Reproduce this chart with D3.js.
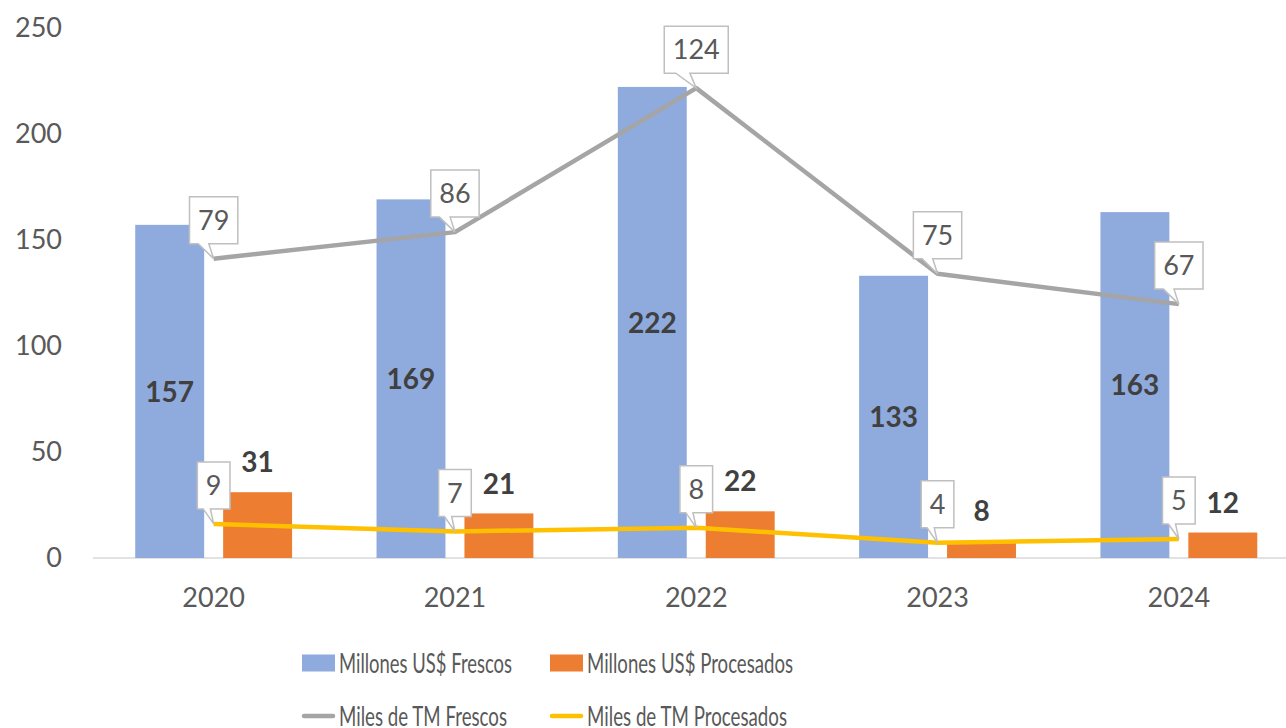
<html>
<head>
<meta charset="utf-8">
<script src="https://cdn.jsdelivr.net/npm/d3@7"></script>
<style>
  body { margin: 0; background: #fff; }
  svg text { font-family: Lato, "Noto Sans", sans-serif; }
</style>
</head>
<body>
<div id="chart"></div>
<script>
var years = ["2020", "2021", "2022", "2023", "2024"];
var usdFrescos = [157, 169, 222, 133, 163];
var usdProcesados = [31, 21, 22, 8, 12];
var tmFrescos = [79, 86, 124, 75, 67];
var tmProcesados = [9, 7, 8, 4, 5];
var yTicks = [0, 50, 100, 150, 200, 250];
var seriesNames = ["Millones US$ Frescos", "Millones US$ Procesados", "Miles de TM Frescos", "Miles de TM Procesados"];

var w = 1286, h = 728;
var svg = d3.select("#chart").append("svg")
    .attr("width", w)
    .attr("height", h);

// chart is cut off on the right like the original
var x0 = d3.scaleBand().domain(years).range([93, 1299.5]).padding(0);
var groupW = x0.bandwidth() * 0.65;
var x1 = d3.scaleBand().domain(["f", "p"]).range([-groupW / 2, groupW / 2]).paddingInner(0.216);
var y = d3.scaleLinear().domain([0, 250]).range([558, 27.5]);
var y2 = d3.scaleLinear().domain([0, 140]).range([558, 27.5]);

function cx(d, i) { return x0(years[i]) + x0.bandwidth() / 2; }

// y axis labels only
var yAxis = d3.axisLeft(y).tickValues(yTicks).tickSize(0).tickPadding(0);
var gy = svg.append("g").attr("transform", "translate(62,0)").call(yAxis);
gy.select(".domain").remove();
gy.selectAll("text").attr("font-size", 27).attr("fill", "#595959")
    .style("font-family", "Lato, sans-serif");

// baseline
svg.append("line")
    .attr("x1", 93).attr("x2", w)
    .attr("y1", y(0)).attr("y2", y(0))
    .attr("stroke", "#d9d9d9").attr("stroke-width", 1.5);

// x labels
var xAxis = d3.axisBottom(x0).tickSize(0).tickPadding(30);
var gx = svg.append("g").attr("transform", "translate(0," + y(0) + ")").call(xAxis);
gx.select(".domain").remove();
gx.selectAll("text").attr("font-size", 27).attr("fill", "#595959")
    .style("font-family", "Lato, sans-serif");

// bars
var bars = svg.append("g");
bars.selectAll(".bf").data(usdFrescos).enter().append("rect")
    .attr("x", function(d, i) { return cx(d, i) + x1("f"); })
    .attr("width", x1.bandwidth())
    .attr("y", function(d) { return y(d); })
    .attr("height", function(d) { return y(0) - y(d); })
    .attr("fill", "#8faadc");
bars.selectAll(".bp").data(usdProcesados).enter().append("rect")
    .attr("x", function(d, i) { return cx(d, i) + x1("p"); })
    .attr("width", x1.bandwidth())
    .attr("y", function(d) { return y(d); })
    .attr("height", function(d) { return y(0) - y(d); })
    .attr("fill", "#ed7d31");

// bar labels
svg.selectAll(".lf").data(usdFrescos).enter().append("text")
    .attr("x", function(d, i) { return cx(d, i) + x1("f") + x1.bandwidth() / 2; })
    .attr("y", function(d) { return (y(d) + y(0)) / 2; })
    .attr("dy", "0.36em")
    .attr("text-anchor", "middle")
    .attr("font-size", 28).attr("font-weight", "bold").attr("fill", "#404040")
    .text(function(d) { return d; });
svg.selectAll(".lp").data(usdProcesados).enter().append("text")
    .attr("x", function(d, i) { return cx(d, i) + x1("p") + x1.bandwidth() / 2; })
    .attr("y", function(d) { return y(d) - 30; })
    .attr("dy", "0.36em")
    .attr("text-anchor", "middle")
    .attr("font-size", 28).attr("font-weight", "bold").attr("fill", "#404040")
    .text(function(d) { return d; });

// lines (secondary axis, hidden)
var line = d3.line()
    .x(function(d, i) { return cx(d, i); })
    .y(function(d) { return y2(d); });
svg.append("path").datum(tmFrescos)
    .attr("d", line).attr("fill", "none")
    .attr("stroke", "#a5a5a5").attr("stroke-width", 4.5).attr("stroke-linejoin", "round");
svg.append("path").datum(tmProcesados)
    .attr("d", line).attr("fill", "none")
    .attr("stroke", "#ffc000").attr("stroke-width", 4.5).attr("stroke-linejoin", "round");

// callout labels for the lines
function callouts(data) {
  var g = svg.append("g").selectAll("g").data(data).enter().append("g");
  g.each(function(d, i) {
    var px = cx(d, i), py = y2(d);
    var el = d3.select(this);
    var bg = el.append("path");
    var t = el.append("text")
        .attr("text-anchor", "middle")
        .attr("font-size", 27).attr("fill", "#595959")
        .text(d);
    var tw = t.node().getComputedTextLength();
    var bw = tw + 17, bh = 47;
    var left = px - bw / 2, right = px + bw / 2;
    var bottom = py - 15, top = bottom - bh;
    t.attr("x", px).attr("y", (top + bottom) / 2).attr("dy", "0.36em");
    var tl = left + bw * 0.18, tr = left + bw * 0.4;
    bg.attr("d", "M" + left + "," + top + "H" + right + "V" + bottom +
        "H" + tr + "L" + px + "," + py + "L" + tl + "," + bottom + "H" + left + "Z")
      .attr("fill", "#fff").attr("stroke", "#bfbfbf").attr("stroke-width", 1.5);
  });
}
callouts(tmFrescos);
callouts(tmProcesados);

// legend (text squeezed to the narrow width of the original font)
var legend = svg.append("g");
var items = [
  {color: "#8faadc", type: "rect", x: 302, y: 663, len: 173},
  {color: "#ed7d31", type: "rect", x: 550, y: 663, len: 206},
  {color: "#a5a5a5", type: "line", x: 302, y: 716, len: 168},
  {color: "#ffc000", type: "line", x: 550, y: 716, len: 200}
];
items.forEach(function(it, i) {
  if (it.type == "rect") {
    legend.append("rect").attr("x", it.x).attr("y", it.y - 8.5)
        .attr("width", 33).attr("height", 17).attr("fill", it.color);
  } else {
    legend.append("line").attr("x1", it.x + 2).attr("x2", it.x + 31)
        .attr("y1", it.y).attr("y2", it.y)
        .attr("stroke", it.color).attr("stroke-width", 4.5).attr("stroke-linecap", "round");
  }
  legend.append("text").attr("x", it.x + 37).attr("y", it.y).attr("dy", "0.36em")
      .attr("font-size", 27).attr("fill", "#595959")
      .attr("textLength", it.len).attr("lengthAdjust", "spacingAndGlyphs")
      .text(seriesNames[i]);
});
</script>
</body>
</html>
